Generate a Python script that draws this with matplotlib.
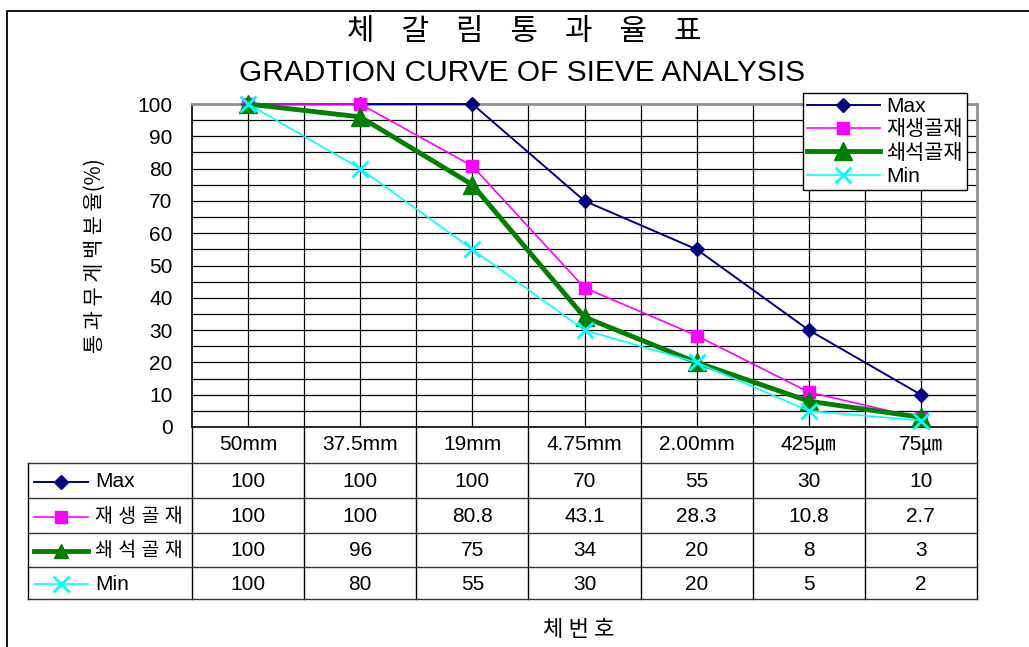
import matplotlib.pyplot as plt
from matplotlib.lines import Line2D
from matplotlib.transforms import blended_transform_factory

plt.rcParams['font.family'] = ['Liberation Sans', 'Noto Sans CJK KR', 'DejaVu Sans']
KR = ['Noto Sans CJK KR', 'DejaVu Sans']

# sieve sizes and passing percentages
sieves = ['50mm', '37.5mm', '19mm', '4.75mm', '2.00mm', '425㎛', '75㎛']
max_pass = [100, 100, 100, 70, 55, 30, 10]
recycled = [100, 100, 80.8, 43.1, 28.3, 10.8, 2.7]
crushed = [100, 96, 75, 34, 20, 8, 3]
min_pass = [100, 80, 55, 30, 20, 5, 2]

series = [
    ('Max', max_pass, dict(color='#000080', marker='D', markersize=7, linewidth=1.4)),
    ('재생골재', recycled, dict(color='#FF00FF', marker='s', markersize=9, linewidth=1.2)),
    ('쇄석골재', crushed, dict(color='#008000', marker='^', markersize=13, linewidth=3.5)),
    ('Min', min_pass, dict(color='#00FFFF', marker='x', markersize=11, markeredgewidth=2, linewidth=1.2)),
]

W, H = 1029, 647
fig = plt.figure(figsize=(W / 100, H / 100), dpi=100)

# pixel-space overlay for the frame and table
ov = fig.add_axes([0, 0, 1, 1], zorder=0)
ov.set_xlim(0, W)
ov.set_ylim(H, 0)
ov.axis('off')

left, right, top, bottom = 192, 977, 104, 427
ax = fig.add_axes([left / W, 1 - bottom / H, (right - left) / W, (bottom - top) / H], zorder=2)

n = len(sieves)
x = list(range(n))
for name, vals, st in series:
    ax.plot(x, vals, label=name, clip_on=False, zorder=3, **st)

ax.set_xlim(-0.5, n - 0.5)
ax.set_ylim(0, 100)
ax.set_yticks(range(0, 101, 10))
ax.tick_params(axis='y', labelsize=15, length=0, pad=14)
ax.set_xticks([])
for yv in range(5, 100, 5):
    ax.axhline(yv, color='black', linewidth=0.9, zorder=1)
for k in range(n * 2 - 1):
    ax.axvline(-0.5 + 0.5 * (k + 1), color='black', linewidth=0.9, zorder=1)
for s in ['top', 'right']:
    ax.spines[s].set_color('#909090')
    ax.spines[s].set_linewidth(2)
for s in ['left', 'bottom']:
    ax.spines[s].set_color('black')
    ax.spines[s].set_linewidth(1.2)

leg = ax.legend(loc='upper right', bbox_to_anchor=(0.987, 1.035),
                prop={'size': 15, 'family': ['Liberation Sans', 'Noto Sans CJK KR']},
                frameon=True, fancybox=False, edgecolor='black', framealpha=1,
                borderpad=0.2, labelspacing=0.2, handlelength=3.5, handletextpad=0.3,
                borderaxespad=0)
leg.get_frame().set_linewidth(1)
leg.set_zorder(5)

ax.set_ylabel('통 과 무 게 백 분 율(%)', fontsize=15, family=KR)
ax.yaxis.set_label_coords(-0.11, 0.53)

# outer frame (left and top edges)
ov.plot([7, 7, W + 5], [H + 5, 11, 11], color='black', linewidth=1.3)

# titles
ov.text(524, 31, '체    갈    림    통    과    율    표', fontsize=21.5, ha='center', va='center', family=KR)
ov.text(522, 73, 'GRADTION CURVE OF SIEVE ANALYSIS', fontsize=21.5, ha='center', va='center')
ov.text(579, 630, '체 번 호', fontsize=16, ha='center', va='center', family=KR)

# data table beneath the plot
tr = blended_transform_factory(ax.transData, ov.transData)
head_bot = 463
rows = [463, 498, 533, 567, 599]
tab_left = 28
lw = 1.0
for k in range(n + 1):
    ov.plot([k - 0.5, k - 0.5], [bottom, rows[-1]], color='black', linewidth=lw, transform=tr)
ov.plot([tab_left, tab_left], [rows[0], rows[-1]], color='black', linewidth=lw)
for yv in rows:
    ov.plot([tab_left, right], [yv, yv], color='#333333', linewidth=lw)
for i, lab in enumerate(sieves):
    ov.text(i, (bottom + head_bot) / 2, lab, transform=tr, ha='center', va='center', fontsize=15,
            family=['Liberation Sans', 'Noto Sans CJK KR'])
for r, (name, vals, st) in enumerate(series):
    yc = (rows[r] + rows[r + 1]) / 2 + 1
    key = Line2D([34, 88], [yc, yc], **st)
    key.set_markevery([])
    ov.add_line(key)
    mk = dict(st)
    mk['markersize'] = st['markersize'] * (0.8 if st['marker'] == '^' else 1)
    ov.plot([61], [yc], linestyle='none', **{k: v for k, v in mk.items() if k != 'linewidth'})
    lab = ' '.join(name) if not name.isascii() else name
    ov.text(95, yc, lab, ha='left', va='center', fontsize=15 if name.isascii() else 14,
            family=['Liberation Sans', 'Noto Sans CJK KR'])
    for i, v in enumerate(vals):
        ov.text(i, yc, f'{v:g}', transform=tr, ha='center', va='center', fontsize=15)

fig.savefig('out.png', dpi=100)
